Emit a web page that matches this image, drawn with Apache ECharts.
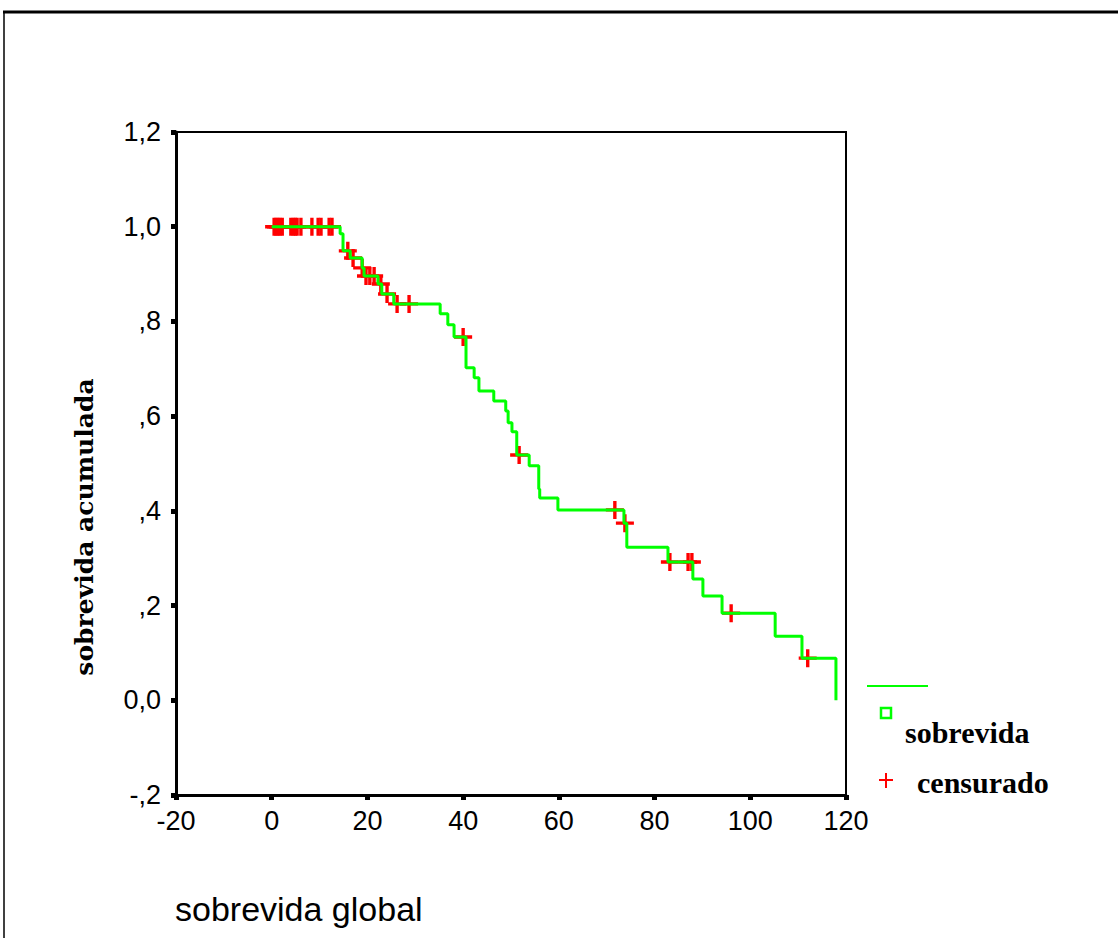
<!DOCTYPE html>
<html>
<head>
<meta charset="utf-8">
<script src="https://cdn.jsdelivr.net/npm/echarts@6/dist/echarts.min.js"></script>
<style>
  html, body { margin: 0; padding: 0; background: #fff; }
  #main { width: 1118px; height: 938px; }
</style>
</head>
<body>
<div id="main"></div>
<script>
var myChart = echarts.init(document.getElementById('main'), null, { renderer: 'svg' });

// curva de sobrevida (tiempo del evento, sobrevida tras el evento)
var kmTimes = [0, 14.3, 14.9, 16.4, 18.9, 19.3, 22.2, 23.0, 25.5, 35.2, 36.8, 38.1, 40.6, 42.3, 43.3,
  46.4, 48.9, 49.4, 50.2, 51.2, 53.8, 55.8, 56.0, 59.8, 73.6, 74.2, 82.8, 88.0, 90.1, 94.1,
  105.2, 110.8, 117.9];
var kmSurv = [1.0, 0.985, 0.949, 0.934, 0.913, 0.896, 0.879, 0.858, 0.837, 0.816, 0.793, 0.767, 0.702, 0.681, 0.653,
  0.632, 0.611, 0.586, 0.567, 0.518, 0.495, 0.446, 0.427, 0.402, 0.374, 0.323, 0.292, 0.256, 0.220, 0.184,
  0.135, 0.089, 0.0];

// casos censurados
var censTimes = [0.5, 0.9, 1.3, 1.7, 2.2, 4.0, 4.5, 4.9, 5.3, 6.1, 8.4, 9.7, 10.3, 12.0, 12.6,
  15.9, 17.0, 18.9, 19.7, 20.5, 21.4, 22.8, 24.1, 26.2, 28.7, 40.0, 51.7, 71.7, 73.8, 83.2, 87.0, 87.8,
  96.0, 112.0];
var censSurv = [1.0, 1.0, 1.0, 1.0, 1.0, 1.0, 1.0, 1.0, 1.0, 1.0, 1.0, 1.0, 1.0, 1.0, 1.0,
  0.949, 0.934, 0.913, 0.896, 0.896, 0.896, 0.879, 0.858, 0.837, 0.837, 0.767, 0.518, 0.402, 0.374, 0.292, 0.292, 0.292,
  0.184, 0.089];

// etiquetas del eje y
var yTickLabels = ['-,2', '0,0', ',2', ',4', ',6', ',8', '1,0', '1,2'];

var plusPath = 'path://M6.5,0H9.5V6.5H16V9.5H9.5V16H6.5V9.5H0V6.5H6.5Z';

var kmData = [];
for (var i = 0; i < kmTimes.length; i++) kmData.push([kmTimes[i], kmSurv[i]]);
var censData = [];
for (var j = 0; j < censTimes.length; j++) censData.push([censTimes[j], censSurv[j]]);

var option = {
  animation: false,
  backgroundColor: '#fff',
  grid: {
    left: 176, right: 272, top: 132, bottom: 143,
    show: true, borderColor: '#000', borderWidth: 2
  },
  xAxis: {
    type: 'value', min: -20, max: 120, interval: 20,
    splitLine: { show: false },
    axisLine: { onZero: false, lineStyle: { color: '#000', width: 3 } },
    axisTick: { length: 5, lineStyle: { color: '#000', width: 5 } },
    axisLabel: { color: '#000', fontFamily: 'Liberation Sans', fontSize: 27, margin: 12 }
  },
  yAxis: {
    type: 'value', min: -0.2, max: 1.2, interval: 0.2,
    splitLine: { show: false },
    axisLine: { onZero: false, lineStyle: { color: '#000', width: 3 } },
    axisTick: { length: 5, lineStyle: { color: '#000', width: 5 } },
    axisLabel: {
      color: '#000', fontFamily: 'Liberation Sans', fontSize: 27, margin: 15,
      formatter: function (v) { return yTickLabels[Math.round((v + 0.2) / 0.2)]; }
    }
  },
  graphic: [
    // marco
    { type: 'line', shape: { x1: 3, y1: 12, x2: 1118, y2: 12 }, style: { stroke: '#000', lineWidth: 3 } },
    { type: 'line', shape: { x1: 4, y1: 12, x2: 4, y2: 938 }, style: { stroke: '#000', lineWidth: 1.5 } },
    // títulos de ejes
    { type: 'text', x: 175, y: 909, style: { text: 'sobrevida global', fill: '#000', font: '34px "Liberation Sans"', textVerticalAlign: 'middle' } },
    { type: 'text', x: 84, y: 527, rotation: Math.PI / 2,
      style: { text: 'sobrevida acumulada', fill: '#000', font: 'bold 25px "DejaVu Serif"', textAlign: 'center', textVerticalAlign: 'middle' } },
    // leyenda
    { type: 'line', shape: { x1: 867, y1: 686, x2: 928, y2: 686 }, style: { stroke: '#00ff00', lineWidth: 2 } },
    { type: 'rect', shape: { x: 881, y: 708, width: 10, height: 10 }, style: { fill: 'none', stroke: '#00ff00', lineWidth: 2.5 } },
    { type: 'text', x: 905, y: 732, style: { text: 'sobrevida', fill: '#000', font: 'bold 30px "Liberation Serif"', textVerticalAlign: 'middle' } },
    { type: 'line', shape: { x1: 879, y1: 780, x2: 893, y2: 780 }, style: { stroke: '#ff0000', lineWidth: 2 } },
    { type: 'line', shape: { x1: 886, y1: 773, x2: 886, y2: 788 }, style: { stroke: '#ff0000', lineWidth: 2 } },
    { type: 'text', x: 917, y: 782, style: { text: 'censurado', fill: '#000', font: 'bold 30px "Liberation Serif"', textVerticalAlign: 'middle' } }
  ],
  series: [
    {
      name: 'sobrevida',
      type: 'line',
      step: 'end',
      showSymbol: false,
      lineStyle: { color: '#00ff00', width: 3 },
      data: kmData
    },
    {
      name: 'censurado',
      type: 'scatter',
      symbol: plusPath,
      symbolSize: 18,
      itemStyle: { color: '#ff0000', opacity: 1 },
      data: censData
    }
  ]
};

myChart.setOption(option);
</script>
</body>
</html>
